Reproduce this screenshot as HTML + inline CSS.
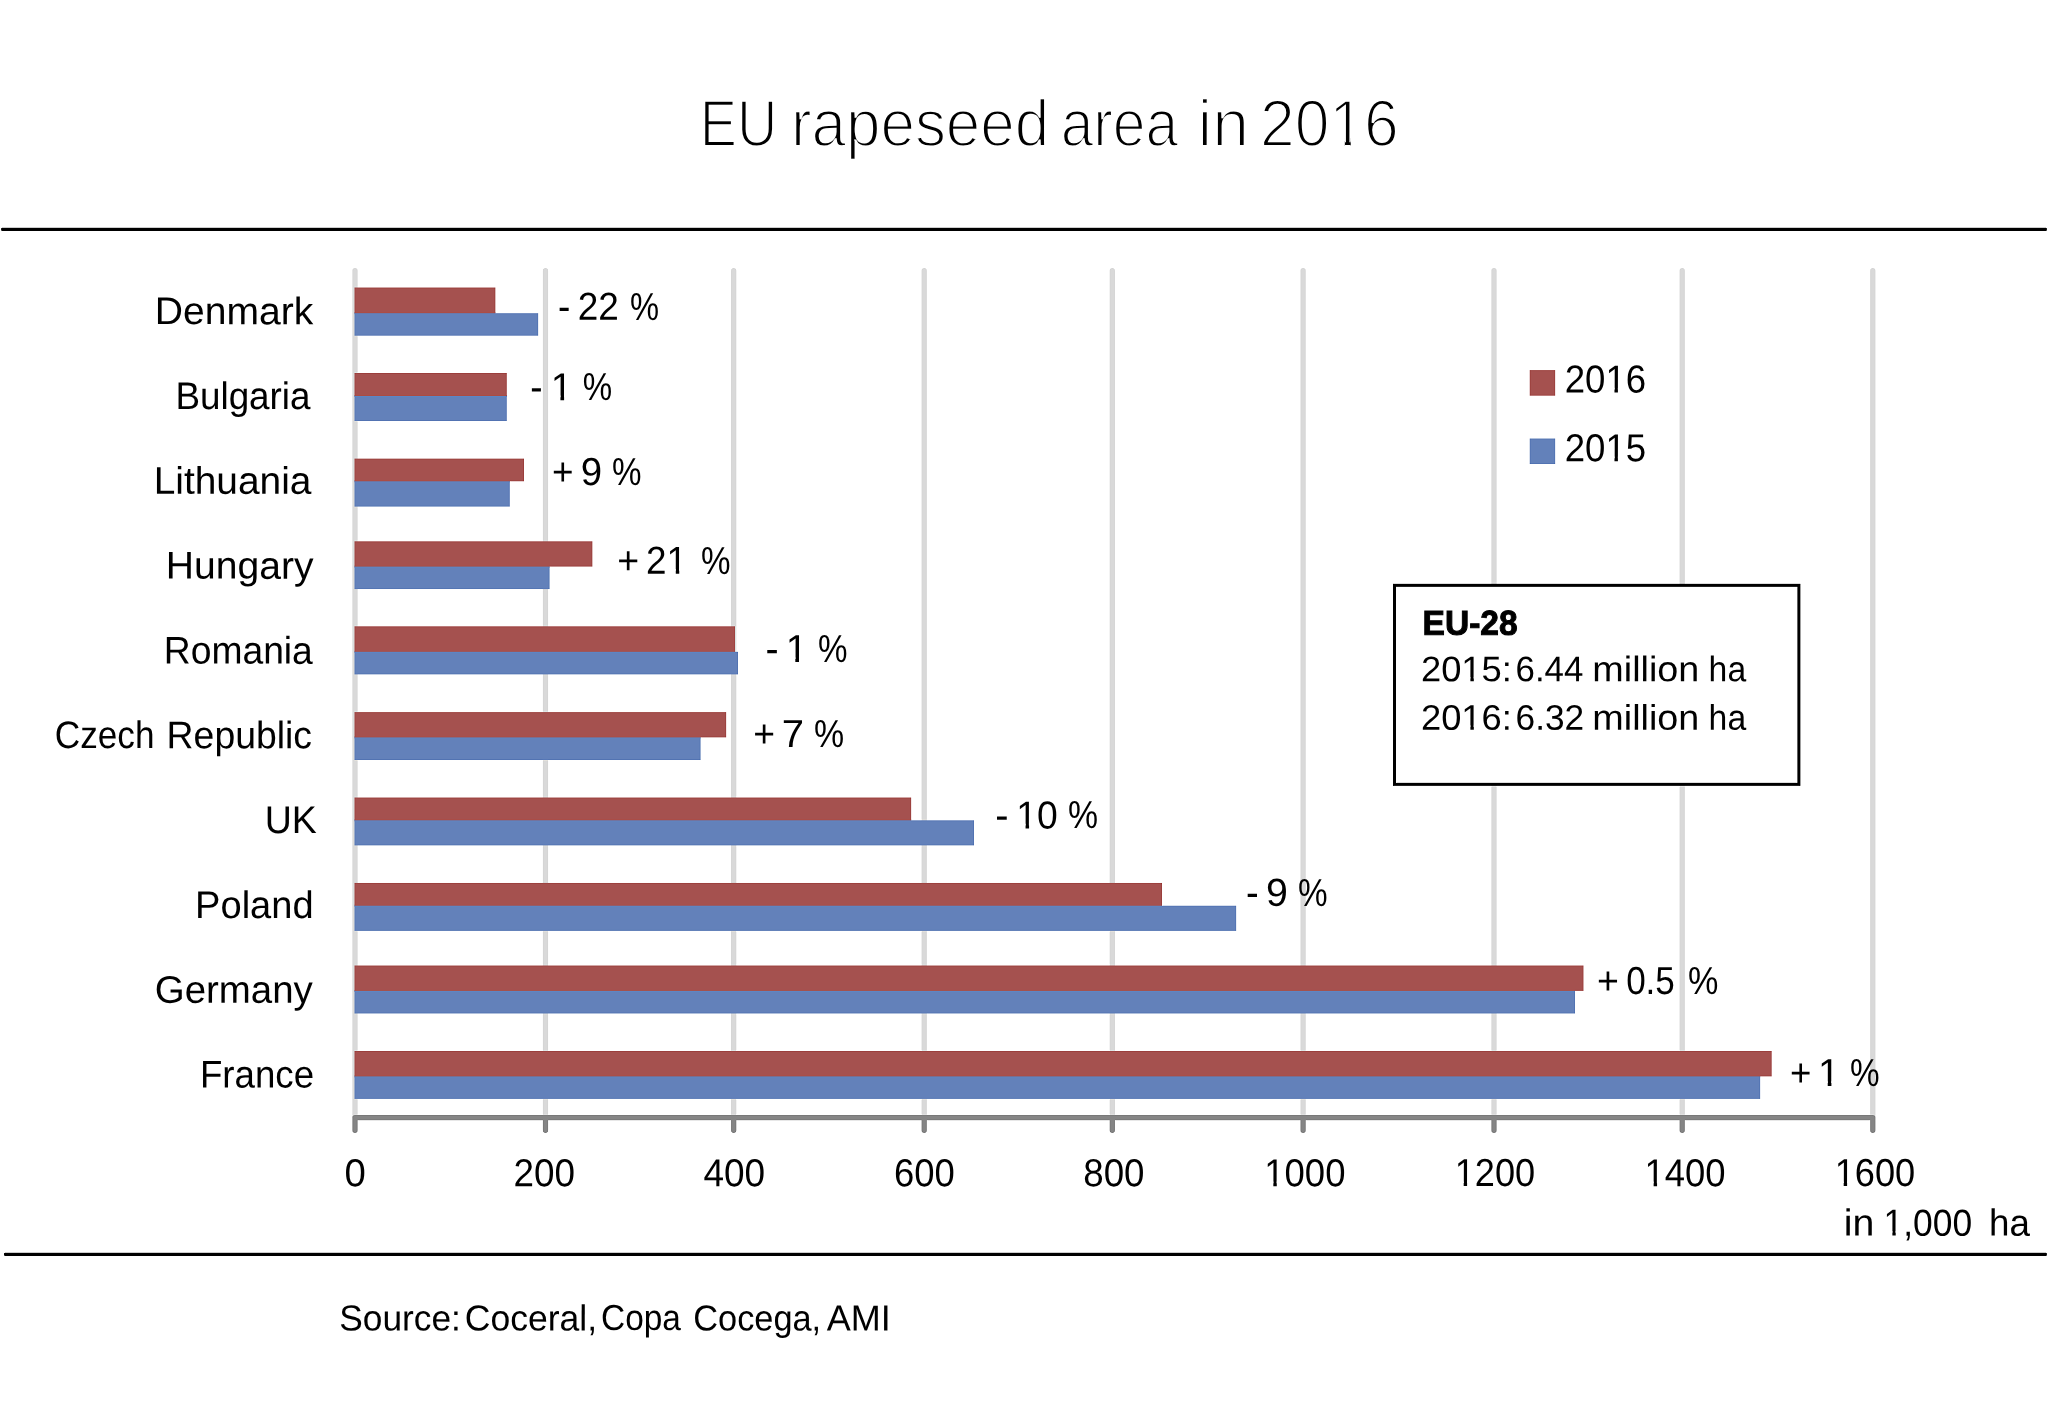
<!DOCTYPE html>
<html><head><meta charset="utf-8"><title>EU rapeseed area in 2016</title>
<style>
html,body{margin:0;padding:0;background:#fff}
body{width:2048px;height:1401px;position:relative;overflow:hidden;font-family:"Liberation Sans",sans-serif;color:#000}
svg{position:absolute;left:0;top:0}
#tx{position:absolute;left:0;top:0;width:2048px;height:1401px;will-change:transform}
.t{position:absolute;white-space:pre;line-height:1;transform-origin:0 0;color:#000;font-family:"Liberation Sans",sans-serif}
.lbl{font-size:38.4px;font-weight:400;}
.num{font-size:39.0px;font-weight:400;}
.box{font-size:35.6px;font-weight:400;}
.boxb{font-size:34.6px;font-weight:700;}
.ttl{font-size:65.9px;font-weight:400;}
.unit{font-size:37.5px;font-weight:400;}
.src{font-size:36.2px;font-weight:400;}
.ttl{-webkit-text-stroke:2.1px #fff}
.boxb{-webkit-text-stroke:1.0px #000}
.o{display:inline-block;clip-path:polygon(0 0,100% 0,100% 0.7000em,0.3428em 0.7000em,0.3428em 1.2em,0.2485em 1.2em,0.2485em 0.7000em,0 0.7000em)}
.lbl .o{clip-path:polygon(0 0,100% 0,100% 0.7128em,0.3428em 0.7128em,0.3428em 1.2em,0.2485em 1.2em,0.2485em 0.7128em,0 0.7128em)}
.num .o{clip-path:polygon(0 0,100% 0,100% 0.7255em,0.3428em 0.7255em,0.3428em 1.2em,0.2485em 1.2em,0.2485em 0.7255em,0 0.7255em)}
.box .o{clip-path:polygon(0 0,100% 0,100% 0.6938em,0.3428em 0.6938em,0.3428em 1.2em,0.2485em 1.2em,0.2485em 0.6938em,0 0.6938em)}
.boxb .o{clip-path:polygon(0 0,100% 0,100% 0.7326em,0.3428em 0.7326em,0.3428em 1.2em,0.2485em 1.2em,0.2485em 0.7326em,0 0.7326em)}
.ttl .o{clip-path:polygon(0 0,100% 0,100% 0.7156em,0.3428em 0.7156em,0.3428em 1.2em,0.2485em 1.2em,0.2485em 0.7156em,0 0.7156em)}
.unit .o{clip-path:polygon(0 0,100% 0,100% 0.7066em,0.3428em 0.7066em,0.3428em 1.2em,0.2485em 1.2em,0.2485em 0.7066em,0 0.7066em)}
.src .o{clip-path:polygon(0 0,100% 0,100% 0.7090em,0.3428em 0.7090em,0.3428em 1.2em,0.2485em 1.2em,0.2485em 0.7090em,0 0.7090em)}
</style></head>
<body>
<svg width="2048" height="1401" viewBox="0 0 2048 1401">
<defs><filter id="sh" x="0" y="0" width="2048" height="1401" filterUnits="userSpaceOnUse" color-interpolation-filters="sRGB"><feConvolveMatrix order="3" preserveAlpha="true" edgeMode="duplicate" kernelMatrix="0 -0.11 0 -0.11 1.44 -0.11 0 -0.11 0"/></filter></defs>
<g filter="url(#sh)"><rect x="0" y="0" width="2048" height="1401" fill="#fff"/>
<rect x="1.2" y="227.85" width="2045.6" height="3.1" rx="1" fill="#000"/>
<rect x="4.1" y="1252.85" width="2042.7" height="3.1" rx="1" fill="#000"/>
<path d="M355.00 270.65V1115.90M545.50 270.65V1115.90M733.70 270.65V1115.90M924.20 270.65V1115.90M1112.30 270.65V1115.90M1303.10 270.65V1115.90M1494.00 270.65V1115.90M1682.20 270.65V1115.90M1872.80 270.65V1115.90" fill="none" stroke="#D9D9D9" stroke-width="5.3" stroke-linecap="round"/>
<rect x="354.5" y="312.20" width="140.90" height="2" fill="#6381BA"/>
<rect x="354.5" y="313.2" width="183.70" height="22.50" fill="#6381BA"/>
<rect x="354.5" y="287.5" width="140.90" height="25.70" fill="#A5514F"/>
<rect x="354.5" y="395.00" width="152.30" height="2" fill="#6381BA"/>
<rect x="354.5" y="396.0" width="152.30" height="25.00" fill="#6381BA"/>
<rect x="354.5" y="373.0" width="152.30" height="23.00" fill="#A5514F"/>
<rect x="354.5" y="480.30" width="155.30" height="2" fill="#6381BA"/>
<rect x="354.5" y="481.3" width="155.30" height="25.30" fill="#6381BA"/>
<rect x="354.5" y="458.6" width="169.50" height="22.70" fill="#A5514F"/>
<rect x="354.5" y="565.60" width="195.10" height="2" fill="#6381BA"/>
<rect x="354.5" y="566.6" width="195.10" height="22.50" fill="#6381BA"/>
<rect x="354.5" y="541.3" width="237.90" height="25.30" fill="#A5514F"/>
<rect x="354.5" y="650.80" width="380.50" height="2" fill="#6381BA"/>
<rect x="354.5" y="651.8" width="383.50" height="22.60" fill="#6381BA"/>
<rect x="354.5" y="626.3" width="380.50" height="25.50" fill="#A5514F"/>
<rect x="354.5" y="736.40" width="346.10" height="2" fill="#6381BA"/>
<rect x="354.5" y="737.4" width="346.10" height="22.60" fill="#6381BA"/>
<rect x="354.5" y="712.1" width="371.70" height="25.30" fill="#A5514F"/>
<rect x="354.5" y="819.30" width="556.70" height="2" fill="#6381BA"/>
<rect x="354.5" y="820.3" width="619.50" height="25.10" fill="#6381BA"/>
<rect x="354.5" y="797.5" width="556.70" height="22.80" fill="#A5514F"/>
<rect x="354.5" y="904.70" width="807.50" height="2" fill="#6381BA"/>
<rect x="354.5" y="905.7" width="881.70" height="25.20" fill="#6381BA"/>
<rect x="354.5" y="882.9" width="807.50" height="22.80" fill="#A5514F"/>
<rect x="354.5" y="989.90" width="1220.50" height="2" fill="#6381BA"/>
<rect x="354.5" y="990.9" width="1220.50" height="22.60" fill="#6381BA"/>
<rect x="354.5" y="965.5" width="1229.00" height="25.40" fill="#A5514F"/>
<rect x="354.5" y="1075.40" width="1405.70" height="2" fill="#6381BA"/>
<rect x="354.5" y="1076.4" width="1405.70" height="22.50" fill="#6381BA"/>
<rect x="354.5" y="1051.0" width="1417.20" height="25.40" fill="#A5514F"/>
<path d="M355.00 1130.25V1117.55H1872.80V1130.25M545.50 1117.55V1130.25M733.70 1117.55V1130.25M924.20 1117.55V1130.25M1112.30 1117.55V1130.25M1303.10 1117.55V1130.25M1494.00 1117.55V1130.25M1682.20 1117.55V1130.25" fill="none" stroke="#858585" stroke-width="5.30" stroke-linecap="round" stroke-linejoin="round"/>
<rect x="1529.7" y="370.1" width="25.5" height="25.6" fill="#A5514F"/>
<rect x="1529.7" y="438.5" width="25.5" height="25.5" fill="#6381BA"/>
<rect x="1394.5" y="585.3" width="404.4" height="199.0" fill="#fff" stroke="#000" stroke-width="3"/>
</g>
</svg>
<div id="tx">
<span class="t ttl" style="left:699px;top:91px;transform:translate(0.90px,0.00px) rotate(0.03deg) scaleX(0.8456)">EU</span>
<span class="t ttl" style="left:791px;top:91px;transform:translate(0.03px,0.00px) rotate(0.03deg) scaleX(0.9395)">rapeseed</span>
<span class="t ttl" style="left:1060px;top:91px;transform:translate(0.66px,0.00px) rotate(0.03deg) scaleX(0.8913)">area</span>
<span class="t ttl" style="left:1197px;top:91px;transform:translate(0.57px,0.00px) rotate(0.03deg) scaleX(1.0049)">in</span>
<span class="t ttl" style="left:1259px;top:91px;transform:translate(0.98px,0.00px) rotate(0.03deg) scaleX(0.9466)">20<span class="o">1</span>6</span>
<span class="t lbl" style="left:154px;top:292px;transform:translate(0.79px,0.09px) rotate(0.03deg) scaleX(1.0174)">Denmark</span>
<span class="t lbl" style="left:175px;top:376px;transform:translate(0.48px,0.92px) rotate(0.03deg) scaleX(0.9585)">Bulgaria</span>
<span class="t lbl" style="left:153px;top:461px;transform:translate(0.71px,0.75px) rotate(0.03deg) scaleX(1.0125)">Lithuania</span>
<span class="t lbl" style="left:165px;top:546px;transform:translate(0.89px,0.58px) rotate(0.03deg) scaleX(1.0173)">Hungary</span>
<span class="t lbl" style="left:163px;top:631px;transform:translate(0.85px,0.56px) rotate(0.03deg) scaleX(0.9697)">Romania</span>
<span class="t lbl" style="left:54px;top:716px;transform:translate(0.77px,0.24px) rotate(0.03deg) scaleX(0.9161)">Czech</span>
<span class="t lbl" style="left:166px;top:716px;transform:translate(0.64px,0.24px) rotate(0.03deg) scaleX(0.9731)">Republic</span>
<span class="t lbl" style="left:264px;top:801px;transform:translate(0.77px,0.07px) rotate(0.03deg) scaleX(0.9769)">UK</span>
<span class="t lbl" style="left:195px;top:885px;transform:translate(0.08px,0.90px) rotate(0.03deg) scaleX(0.9916)">Poland</span>
<span class="t lbl" style="left:154px;top:970px;transform:translate(0.80px,0.73px) rotate(0.03deg) scaleX(1.0010)">Germany</span>
<span class="t lbl" style="left:199px;top:1055px;transform:translate(1.00px,0.56px) rotate(0.03deg) scaleX(0.9546)">France</span>
<span class="t num" style="left:557px;top:286px;transform:translate(0.94px,0.74px) rotate(0.03deg) scaleX(0.9474)">-</span>
<span class="t num" style="left:577px;top:286px;transform:translate(0.71px,0.74px) rotate(0.03deg) scaleX(0.9468)">22</span>
<span class="t num" style="left:630px;top:286px;transform:translate(0.14px,0.74px) rotate(0.03deg) scaleX(0.8378)">%</span>
<span class="t num" style="left:530px;top:367px;transform:translate(0.34px,0.24px) rotate(0.03deg) scaleX(0.9474)">-</span>
<span class="t num" style="left:550px;top:367px;transform:translate(0.75px,0.24px) rotate(0.03deg) scaleX(1.0000)"><span class="o">1</span></span>
<span class="t num" style="left:582px;top:367px;transform:translate(0.73px,0.24px) rotate(0.03deg) scaleX(0.8472)">%</span>
<span class="t num" style="left:551px;top:452px;transform:translate(0.91px,0.04px) rotate(0.03deg) scaleX(0.9440)">+</span>
<span class="t num" style="left:580px;top:452px;transform:translate(0.78px,0.04px) rotate(0.03deg) scaleX(0.9833)">9</span>
<span class="t num" style="left:612px;top:452px;transform:translate(0.12px,0.04px) rotate(0.03deg) scaleX(0.8504)">%</span>
<span class="t num" style="left:617px;top:540px;transform:translate(0.28px,0.64px) rotate(0.03deg) scaleX(0.9600)">+</span>
<span class="t num" style="left:646px;top:540px;transform:translate(0.11px,0.64px) rotate(0.03deg) scaleX(0.9455)">2<span class="o">1</span></span>
<span class="t num" style="left:700px;top:540px;transform:translate(0.92px,0.64px) rotate(0.03deg) scaleX(0.8504)">%</span>
<span class="t num" style="left:765px;top:628px;transform:translate(0.53px,0.94px) rotate(0.03deg) scaleX(1.0105)">-</span>
<span class="t num" style="left:785px;top:628px;transform:translate(0.65px,0.94px) rotate(0.03deg) scaleX(1.0000)"><span class="o">1</span></span>
<span class="t num" style="left:818px;top:628px;transform:translate(0.02px,0.94px) rotate(0.03deg) scaleX(0.8504)">%</span>
<span class="t num" style="left:753px;top:713px;transform:translate(0.39px,0.94px) rotate(0.03deg) scaleX(0.9547)">+</span>
<span class="t num" style="left:781px;top:713px;transform:translate(0.85px,0.94px) rotate(0.03deg) scaleX(1.0254)">7</span>
<span class="t num" style="left:814px;top:713px;transform:translate(0.10px,0.94px) rotate(0.03deg) scaleX(0.8693)">%</span>
<span class="t num" style="left:995px;top:795px;transform:translate(0.21px,0.44px) rotate(0.03deg) scaleX(1.0211)">-</span>
<span class="t num" style="left:1016px;top:795px;transform:translate(0.32px,0.44px) rotate(0.03deg) scaleX(0.9553)"><span class="o">1</span>0</span>
<span class="t num" style="left:1068px;top:795px;transform:translate(0.10px,0.44px) rotate(0.03deg) scaleX(0.8661)">%</span>
<span class="t num" style="left:1246px;top:872px;transform:translate(0.09px,0.84px) rotate(0.03deg) scaleX(0.9789)">-</span>
<span class="t num" style="left:1266px;top:872px;transform:translate(0.04px,0.84px) rotate(0.03deg) scaleX(1.0056)">9</span>
<span class="t num" style="left:1298px;top:872px;transform:translate(0.02px,0.84px) rotate(0.03deg) scaleX(0.8535)">%</span>
<span class="t num" style="left:1596px;top:961px;transform:translate(0.98px,0.04px) rotate(0.03deg) scaleX(0.9600)">+</span>
<span class="t num" style="left:1626px;top:961px;transform:translate(0.15px,0.04px) rotate(0.03deg) scaleX(0.8980)">0.5</span>
<span class="t num" style="left:1688px;top:961px;transform:translate(0.09px,0.04px) rotate(0.03deg) scaleX(0.8756)">%</span>
<span class="t num" style="left:1789px;top:1053px;transform:translate(0.92px,0.04px) rotate(0.03deg) scaleX(0.9387)">+</span>
<span class="t num" style="left:1818px;top:1053px;transform:translate(0.05px,0.04px) rotate(0.03deg) scaleX(1.0000)"><span class="o">1</span></span>
<span class="t num" style="left:1849px;top:1053px;transform:translate(0.92px,0.04px) rotate(0.03deg) scaleX(0.8535)">%</span>
<span class="t num" style="left:344px;top:1153px;transform:translate(0.53px,0.14px) rotate(0.03deg) scaleX(0.9813)">0</span>
<span class="t num" style="left:513px;top:1153px;transform:translate(0.61px,0.14px) rotate(0.03deg) scaleX(0.9447)">200</span>
<span class="t num" style="left:703px;top:1153px;transform:translate(0.55px,0.14px) rotate(0.03deg) scaleX(0.9472)">400</span>
<span class="t num" style="left:894px;top:1153px;transform:translate(0.13px,0.14px) rotate(0.03deg) scaleX(0.9333)">600</span>
<span class="t num" style="left:1083px;top:1153px;transform:translate(0.25px,0.14px) rotate(0.03deg) scaleX(0.9409)">800</span>
<span class="t num" style="left:1264px;top:1153px;transform:translate(0.29px,0.14px) rotate(0.03deg) scaleX(0.9350)"><span class="o">1</span>000</span>
<span class="t num" style="left:1454px;top:1153px;transform:translate(0.73px,0.14px) rotate(0.03deg) scaleX(0.9264)"><span class="o">1</span>200</span>
<span class="t num" style="left:1644px;top:1153px;transform:translate(0.60px,0.14px) rotate(0.03deg) scaleX(0.9337)"><span class="o">1</span>400</span>
<span class="t num" style="left:1834px;top:1153px;transform:translate(0.72px,0.14px) rotate(0.03deg) scaleX(0.9276)"><span class="o">1</span>600</span>
<span class="t unit" style="left:1843px;top:1204px;transform:translate(0.68px,0.62px) rotate(0.03deg) scaleX(1.0474)">in</span>
<span class="t unit" style="left:1883px;top:1204px;transform:translate(0.60px,0.62px) rotate(0.03deg) scaleX(0.9438)"><span class="o">1</span>,000</span>
<span class="t unit" style="left:1988px;top:1204px;transform:translate(0.95px,0.62px) rotate(0.03deg) scaleX(0.9809)">ha</span>
<span class="t num" style="left:1564px;top:359px;transform:translate(0.73px,0.44px) rotate(0.03deg) scaleX(0.9373)">20<span class="o">1</span>6</span>
<span class="t num" style="left:1564px;top:428px;transform:translate(0.73px,0.24px) rotate(0.03deg) scaleX(0.9373)">20<span class="o">1</span>5</span>
<span class="t boxb" style="left:1422px;top:605px;transform:translate(0.60px,0.81px) rotate(0.03deg) scaleX(0.9702)">EU-28</span>
<span class="t box" style="left:1421px;top:652px;transform:translate(0.01px,0.24px) rotate(0.03deg) scaleX(1.0202)">20<span class="o">1</span>5:</span>
<span class="t box" style="left:1515px;top:652px;transform:translate(0.59px,0.24px) rotate(0.03deg) scaleX(0.9789)">6.44</span>
<span class="t box" style="left:1592px;top:652px;transform:translate(0.35px,0.24px) rotate(0.03deg) scaleX(1.0604)">million</span>
<span class="t box" style="left:1708px;top:652px;transform:translate(0.63px,0.24px) rotate(0.03deg) scaleX(0.9486)">ha</span>
<span class="t box" style="left:1421px;top:700px;transform:translate(0.01px,0.64px) rotate(0.03deg) scaleX(1.0202)">20<span class="o">1</span>6:</span>
<span class="t box" style="left:1515px;top:700px;transform:translate(0.57px,0.64px) rotate(0.03deg) scaleX(0.9901)">6.32</span>
<span class="t box" style="left:1592px;top:700px;transform:translate(0.35px,0.64px) rotate(0.03deg) scaleX(1.0604)">million</span>
<span class="t box" style="left:1708px;top:700px;transform:translate(0.63px,0.64px) rotate(0.03deg) scaleX(0.9486)">ha</span>
<span class="t src" style="left:339px;top:1300px;transform:translate(0.29px,0.40px) rotate(0.03deg) scaleX(0.9745)">Source:</span>
<span class="t src" style="left:464px;top:1300px;transform:translate(0.78px,0.40px) rotate(0.03deg) scaleX(0.9819)">Coceral,</span>
<span class="t src" style="left:601px;top:1300px;transform:translate(0.09px,0.40px) rotate(0.03deg) scaleX(0.9227)">Copa</span>
<span class="t src" style="left:693px;top:1300px;transform:translate(0.34px,0.40px) rotate(0.03deg) scaleX(0.9480)">Cocega,</span>
<span class="t src" style="left:826px;top:1300px;transform:translate(0.80px,0.40px) rotate(0.03deg) scaleX(0.9951)">AMI</span>
</div>
</body></html>
